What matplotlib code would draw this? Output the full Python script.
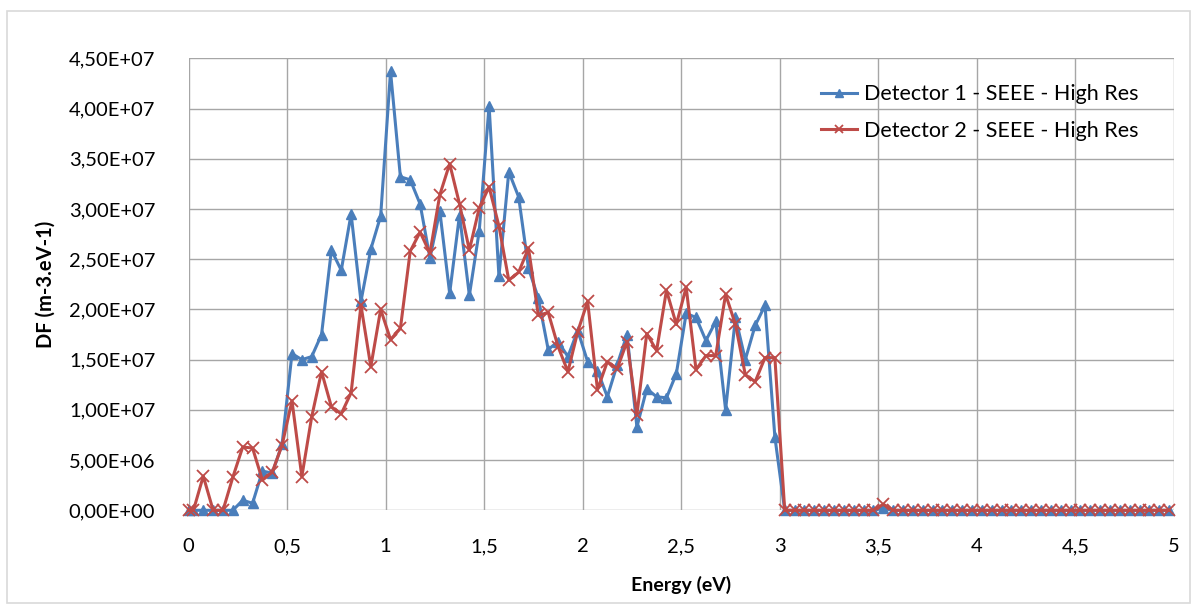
import matplotlib
matplotlib.use("Agg")
import matplotlib.pyplot as plt
from matplotlib.patches import Rectangle
from matplotlib.ticker import FuncFormatter, MultipleLocator
import numpy as np

# energy bins: a first point at 0, then bin centres 0.025, 0.075, ... 4.975
energy = [0.0] + [round(0.025 + 0.05 * k, 3) for k in range(100)]

# values in units of 1e6 (m-3.eV-1)
det1 = [0.0,
        0.0, 0.0, 0.0, 0.0, 0.0, 1.0, 0.7, 3.9, 3.7, 6.6,
        15.6, 15.0, 15.3, 17.5, 25.9, 23.9, 29.5, 20.8, 26.0, 29.3,
        43.7, 33.2, 32.9, 30.5, 25.1, 29.8, 21.6, 29.4, 21.4, 27.8,
        40.3, 23.3, 33.7, 31.2, 24.1, 21.1, 16.0, 16.8, 15.3, 17.9,
        14.8, 13.9, 11.3, 14.5, 17.5, 8.3, 12.1, 11.3, 11.2, 13.6,
        19.6, 19.2, 16.9, 18.8, 10.0, 19.2, 15.0, 18.4, 20.4, 7.3,
        0, 0, 0, 0, 0, 0, 0, 0, 0, 0,
        0.2, 0, 0, 0, 0, 0, 0, 0, 0, 0,
        0, 0, 0, 0, 0, 0, 0, 0, 0, 0,
        0, 0, 0, 0, 0, 0, 0, 0, 0, 0]

det2 = [0.0,
        0.0, 3.4, 0.0, 0.0, 3.3, 6.3, 6.2, 3.0, 3.8, 6.5,
        10.9, 3.35, 9.3, 13.8, 10.3, 9.6, 11.7, 20.4, 14.3, 20.0,
        17.0, 18.1, 25.8, 27.7, 25.6, 31.4, 34.5, 30.5, 25.9, 30.1,
        32.2, 28.3, 22.9, 23.7, 26.1, 19.4, 19.7, 16.3, 13.8, 17.8,
        20.8, 12.0, 14.8, 14.1, 16.8, 9.5, 17.6, 15.9, 21.9, 18.5,
        22.2, 14.0, 15.4, 15.4, 21.5, 18.5, 13.5, 12.8, 15.2, 15.2,
        0, 0, 0, 0, 0, 0, 0, 0, 0, 0,
        0.6, 0, 0, 0, 0, 0, 0, 0, 0, 0,
        0, 0, 0, 0, 0, 0, 0, 0, 0, 0,
        0, 0, 0, 0, 0, 0, 0, 0, 0, 0]

labels = ["Detector 1 - SEEE - High Res", "Detector 2 - SEEE - High Res"]

plt.rcParams['font.family'] = ['Lato', 'DejaVu Sans']

fig = plt.figure(figsize=(11.97, 6.08), dpi=100)
ax = fig.add_axes([188.5 / 1197, 1 - 510.3 / 608, (1174 - 188.5) / 1197, (510.3 - 58.3) / 608])

# light chart-area border
fig.patches.append(Rectangle((7 / 1197, 1 - 603 / 608), 1183 / 1197, 592 / 608,
                             transform=fig.transFigure, fill=False,
                             edgecolor='#d9d9d9', linewidth=1.2))

scale = 1e6
ax.plot(energy, np.array(det1) * scale, color='#4a7ebb', lw=2.2,
        marker='^', ms=7, mec='#4a7ebb', label=labels[0], zorder=3, clip_on=False)
ax.plot(energy, np.array(det2) * scale, color='#be4b48', lw=2.2,
        marker='x', ms=8, mew=1.3, label=labels[1], zorder=3, clip_on=False)

ax.set_xlim(0, 5)
ax.set_ylim(0, 4.5e7)
ax.xaxis.set_major_locator(MultipleLocator(0.5))
ax.yaxis.set_major_locator(MultipleLocator(5e6))
ax.xaxis.set_major_formatter(FuncFormatter(lambda v, p: ('%g' % v).replace('.', ',')))
ax.yaxis.set_major_formatter(FuncFormatter(lambda v, p: ('%.2E' % v).replace('.', ',')))

ax.grid(True, color='#a6a6a6', lw=1)
ax.set_axisbelow(True)
for s in ax.spines.values():
    s.set_visible(False)
ax.tick_params(length=0, labelsize=14.5, colors='black')
ax.tick_params(axis='y', pad=24)
ax.tick_params(axis='x', pad=20)

ax.set_xlabel("Energy (eV)", fontsize=14, fontweight='bold', labelpad=15)
ax.set_ylabel("DF (m-3.eV-1)", fontsize=14.5, fontweight='bold', labelpad=9)

ax.legend(loc='upper left', bbox_to_anchor=(0.622, 0.985), frameon=False,
          fontsize=15.5, handlelength=1.7, handletextpad=0.3, labelspacing=0.75,
          markerscale=0.8)

fig.savefig("out.png", dpi=100)
